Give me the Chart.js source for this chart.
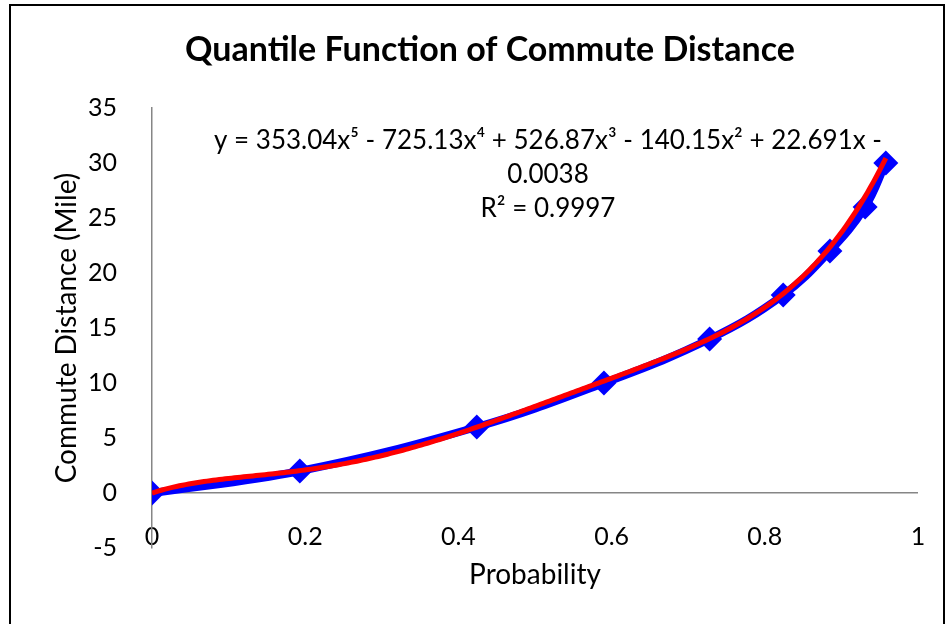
<!DOCTYPE html>
<html>
<head>
<meta charset="utf-8">
<script src="https://cdn.jsdelivr.net/npm/chart.js@4/dist/chart.umd.min.js"></script>
<style>
  html, body { margin: 0; padding: 0; background: #ffffff; }
  #wrap { width: 950px; height: 624px; position: relative; }
</style>
</head>
<body>
<div id="wrap"><canvas id="chart" width="950" height="624"></canvas></div>
<script>
// Cumulative probability and the matching commute distance (miles)
const probability = [0, 0.193, 0.424, 0.590, 0.728, 0.824, 0.885, 0.931, 0.958];
const commuteMiles = [0, 2, 6, 10, 14, 18, 22, 26, 30];

// Fitted 5th-order polynomial trendline, coefficients from x^0 up to x^5
const trendCoefficients = [-0.0038, 22.691, -140.15, 526.87, -725.13, 353.04];
const trendLabel = [
  'y = 353.04x\u2075 - 725.13x\u2074 + 526.87x\u00B3 - 140.15x\u00B2 + 22.691x -',
  '0.0038',
  'R\u00B2 = 0.9997'
];

// Axis tick settings
const yTicks = { min: -5, max: 35, step: 5 };
const xTicks = { min: 0, max: 1, step: 0.2 };

const chartTitle = 'Quantile Function of Commute Distance';
const xTitle = 'Probability';
const yTitle = 'Commute Distance (Mile)';

function trendValue(x) {
  let y = 0;
  for (let i = trendCoefficients.length - 1; i >= 0; i--) y = y * x + trendCoefficients[i];
  return y;
}

// Trendline sampled over the span of the data
const trendPoints = [];
const lastX = probability[probability.length - 1];
for (let k = 0; k <= 240; k++) {
  const x = lastX * k / 240;
  trendPoints.push({ x: x, y: trendValue(x) });
}

const dataPoints = probability.map((p, i) => ({ x: p, y: commuteMiles[i] }));

const FONT = 'Lato, "Open Sans", sans-serif';

// Outer frame and white background
const framePlugin = {
  id: 'frame',
  beforeDraw(chart) {
    const ctx = chart.ctx;
    ctx.save();
    ctx.fillStyle = '#ffffff';
    ctx.fillRect(0, 0, chart.width, chart.height);
    ctx.strokeStyle = '#000000';
    ctx.lineWidth = 2;
    ctx.strokeRect(10, 5, 934, 700);
    ctx.restore();
  }
};

// Trendline equation text
const equationPlugin = {
  id: 'equation',
  afterDatasetsDraw(chart) {
    const ctx = chart.ctx;
    ctx.save();
    ctx.fillStyle = '#000000';
    ctx.font = '26px ' + FONT;
    ctx.textAlign = 'center';
    ctx.textBaseline = 'middle';
    const cx = 548, y0 = 141, lh = 34;
    trendLabel.forEach((line, i) => ctx.fillText(line, cx, y0 + i * lh));
    ctx.restore();
  }
};

new Chart(document.getElementById('chart'), {
  type: 'scatter',
  data: {
    datasets: [
      {
        label: 'Poly. trend',
        data: trendPoints,
        showLine: true,
        borderColor: '#ff0000',
        borderWidth: 5,
        pointRadius: 0,
        tension: 0,
        fill: false
      },
      {
        label: 'Commute distance',
        data: dataPoints,
        showLine: true,
        borderColor: '#0000ff',
        borderWidth: 8,
        tension: 0.4,
        pointStyle: 'rectRot',
        pointRadius: 12.5,
        pointBackgroundColor: '#0000ff',
        pointBorderWidth: 0,
        fill: false
      }
    ]
  },
  options: {
    responsive: false,
    animation: false,
    layout: { padding: { left: 62, right: 32, top: 0, bottom: 0 } },
    plugins: {
      legend: { display: false },
      tooltip: { enabled: false },
      title: {
        display: true,
        text: chartTitle,
        color: '#000000',
        font: { family: FONT, size: 34, weight: 'bold', lineHeight: 1.2 },
        padding: { top: 29.6, bottom: 37.6 }
      }
    },
    scales: {
      x: {
        type: 'linear',
        position: 'bottom',
        min: xTicks.min,
        max: xTicks.max,
        border: { display: false },
        grid: { display: false, drawTicks: false },
        ticks: {
          stepSize: xTicks.step,
          mirror: true,
          padding: -4,
          color: '#000000',
          font: { family: FONT, size: 25 },
          callback: v => String(Number(v.toFixed(1)))
        },
        title: {
          display: true,
          text: xTitle,
          color: '#000000',
          font: { family: FONT, size: 28, lineHeight: 1.2 },
          padding: { top: 0, bottom: 32.2 }
        },
        afterFit: s => { s.height = 76; }
      },
      y: {
        type: 'linear',
        min: yTicks.min,
        max: yTicks.max,
        border: { display: true, color: '#868686', width: 1.5 },
        grid: {
          drawTicks: false,
          color: c => (c.tick && c.tick.value === 0 ? '#868686' : 'rgba(0,0,0,0)'),
          lineWidth: 1.5
        },
        ticks: {
          stepSize: yTicks.step,
          padding: 35,
          color: '#000000',
          font: { family: FONT, size: 25 }
        },
        title: {
          display: true,
          text: yTitle,
          color: '#000000',
          font: { family: FONT, size: 28, lineHeight: 1.2 },
          padding: { top: -11.8, bottom: 0 }
        },
        afterFit: s => { s.width = 90; }
      }
    }
  },
  plugins: [framePlugin, equationPlugin]
});
</script>
</body>
</html>
